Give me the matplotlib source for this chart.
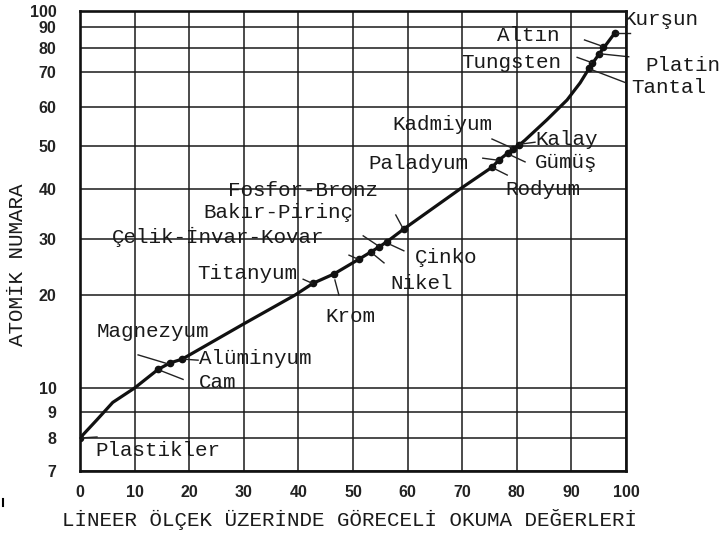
"""
Atomik numara - goreceli okuma degerleri egrisi
"""
import numpy as np
import matplotlib
matplotlib.use('Agg')
import matplotlib.pyplot as plt
from matplotlib.lines import Line2D

# egri uzerinden okunan noktalar
curve_x = [0, 3.1, 6.0, 10, 14.3, 16.5, 18.7, 30, 39.4, 42.7, 46.5, 51.1, 53.3,
           54.8, 56.2, 59.3, 69.6, 75.5, 76.7, 78.4, 79.3, 80.4, 81.5, 85.5,
           89.2, 91.6, 93.4, 95.2, 98.0]
curve_y = [8, 8.7, 9.4, 10, 12.0, 12.7, 13.1, 16.9, 20, 22.1, 23.75, 26.4, 27.7,
           28.6, 29.5, 32.0, 40, 45.1, 46.7, 48.4, 49.3, 50.2, 51.5, 56.7,
           62, 66.9, 72.1, 77.9, 87.3]

# malzemeler
names = ['Plastikler', 'Cam', 'Magnezyum', 'Alüminyum', 'Titanyum', 'Krom',
         'Çelik-İnvar-Kovar', 'Nikel', 'Bakır-Pirinç', 'Çinko', 'Fosfor-Bronz',
         'Rodyum', 'Paladyum', 'Gümüş', 'Kadmiyum', 'Kalay',
         'Tantal', 'Tungsten', 'Platin', 'Altın', 'Kurşun']
elem_x = [0, 14.3, 16.5, 18.7, 42.7, 46.5, 51.1, 53.3, 54.8, 56.2, 59.3,
          75.5, 76.7, 78.4, 79.3, 80.4, 93.2, 93.8, 95.0, 95.7, 98.0]
elem_y = [8, 12.0, 12.7, 13.1, 22.1, 23.75, 26.4, 27.7, 28.6, 29.5, 32.0,
          45.1, 46.7, 48.4, 49.3, 50.2, 71.5, 73.6, 77.6, 80.5, 87.3]

# eksen etiketleri
x_ticks = list(range(0, 101, 10))
y_ticks = [7, 8, 9, 10, 20, 30, 40, 50, 60, 70, 80, 90, 100]

# olcek: kagit uzerindeki cizgi yerleri (piksel, alt kenardan)
y_tick_heights = [0, 33, 59, 83, 176, 232, 282, 325, 364, 399, 423, 444, 460]

# yazi yerleri (noktaya gore piksel, asagi pozitif)
label_off = [(15, 12), (41, 13), (-73, -31), (17, -1), (-116, -10), (-9, 43),
             (-247, -22), (19, 32), (-176, -34), (28, 16), (-176, -39),
             (13, 22), (-130, 3), (27, 10), (-121, -25), (16, -6),
             (42, 19), (-131, -1), (47, 12), (-106, -11), (8, -13)]
# kisa gosterge cizgileri (dx1, dy1, dx2, dy2)
leader_off = [(0, 0, 17, -1), (2, 1, 25, 10), (-32, -8, -2, 1), (2, 0, 16, 1),
              (-10, -4, -1, 0), (1, 6, 5, 21), (-10, -4, -1, 0), (2, 2, 13, 11),
              (-16, -11, -1, -1), (4, 3, 17, 9), (-8, -14, -1, -1),
              (1, 1, 15, 8), (-16, -2, -1, 0), (2, 2, 17, 9), (-21, -10, -1, -1),
              (1, -1, 16, -3), (2, 1, 36, 14), (-15, -6, -1, -1), (1, 0, 30, 3),
              (-18, -7, -1, -1), (1, 0, 15, 0)]


def fwd(v):
    return np.interp(v, y_ticks, y_tick_heights)


def inv(h):
    return np.interp(h, y_tick_heights, y_ticks)


W, H = 723, 537
fig = plt.figure(figsize=(W / 100, H / 100), dpi=100)
ax = fig.add_axes([80 / W, 66 / H, 546 / W, 460 / H])

ax.set_yscale('function', functions=(fwd, inv))
ax.set_xlim(0, 100)
ax.set_ylim(7, 100)
ax.set_xticks(x_ticks)
ax.set_xticklabels([str(t) for t in x_ticks])
ax.set_yticks(y_ticks)
ax.set_yticklabels([str(t) for t in y_ticks])
ax.yaxis.set_minor_locator(matplotlib.ticker.NullLocator())
ax.xaxis.set_minor_locator(matplotlib.ticker.NullLocator())

for lab in ax.get_xticklabels() + ax.get_yticklabels():
    lab.set_fontfamily('Liberation Sans')
    lab.set_fontweight('bold')
    lab.set_fontsize(11.5)
    lab.set_color('#222222')
ax.tick_params(axis='x', length=0, pad=10)
ax.tick_params(axis='y', length=0, pad=17)

ax.grid(True, color='#1a1a1a', linewidth=1.1, zorder=1)
for sp in ax.spines.values():
    sp.set_linewidth(1.9)
    sp.set_color('#111111')
    sp.set_zorder(5)

ax.plot(curve_x, curve_y, color='#111111', linewidth=2.3, zorder=4,
        solid_capstyle='round', solid_joinstyle='round')
ax.plot(elem_x, elem_y, 'o', color='#111111', markersize=4.5, zorder=4)

to_data = ax.transData.inverted()
for name, x, y, (lx, ly), (a, b, c, d) in zip(names, elem_x, elem_y,
                                               label_off, leader_off):
    ax.annotate(name, xy=(x, y), xytext=(lx, -ly), textcoords='offset pixels',
                ha='left', va='center', fontsize=15, family='Liberation Mono',
                color='#1a1a1a', annotation_clip=False, zorder=6)
    px, py = ax.transData.transform((x, y))
    p1 = to_data.transform((px + a, py - b))
    p2 = to_data.transform((px + c, py - d))
    ax.plot([p1[0], p2[0]], [p1[1], p2[1]], color='#222222', linewidth=1.0,
            zorder=4, clip_on=False)

fig.text(18 / W, 1 - 265 / H, 'ATOMİK NUMARA', rotation=90, ha='center',
         va='center', fontsize=15, family='Liberation Mono', color='#1a1a1a')
fig.text(350 / W, 1 - 520 / H, 'LİNEER ÖLÇEK ÜZERİNDE GÖRECELİ OKUMA DEĞERLERİ',
         ha='center', va='center', fontsize=15, family='Liberation Mono',
         color='#1a1a1a')
fig.add_artist(Line2D([3 / W, 3 / W], [1 - 499 / H, 1 - 506 / H],
                      color='black', linewidth=1.5))

fig.savefig('out.png', dpi=100)
